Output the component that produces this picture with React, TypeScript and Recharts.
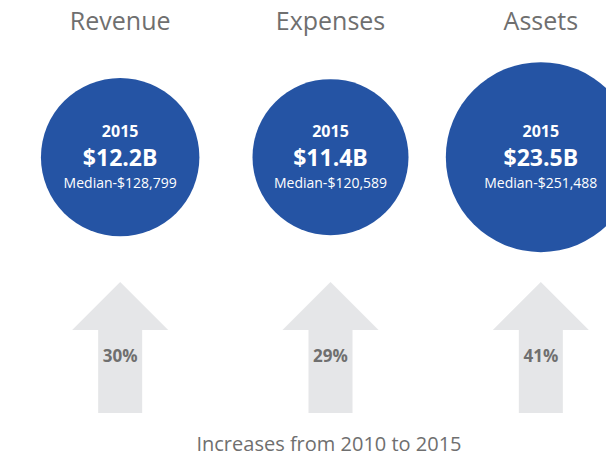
import { ScatterChart, Scatter, XAxis, YAxis, ZAxis } from "recharts";

const CATEGORIES = ["Revenue", "Expenses", "Assets"];
const YEAR = "2015";
const TOTALS_2015 = [12.2, 11.4, 23.5]; // billions of dollars
const MEDIANS_2015 = [128799, 120589, 251488];
const GROWTH_2010_2015 = [30, 29, 41]; // percent
const CAPTION = "Increases from 2010 to 2015";

const ROW_TOTAL = "2015";
const ROW_GROWTH = "2010-2015";

const bubbleRows = CATEGORIES.map((name, i) => ({
  name,
  row: ROW_TOTAL,
  total: TOTALS_2015[i],
  median: MEDIANS_2015[i],
}));

const arrowRows = CATEGORIES.map((name, i) => ({
  name,
  row: ROW_GROWTH,
  growth: GROWTH_2010_2015[i],
}));

const FONT = "'Open Sans', sans-serif";
const BLUE = "#2554a4";
const GREY_TEXT = "#6f6f6f";
const ARROW_FILL = "#e5e6e8";

function Bubble(props: any) {
  const { cx, cy, size, payload } = props;
  const r = Math.sqrt(size / Math.PI);
  return (
    <g fontFamily={FONT} textAnchor="middle" fill="#fff">
      <circle cx={cx} cy={cy} r={r} fill={BLUE} />
      <text x={cx} y={cy - 20} fontSize={16} fontWeight={700}>
        {YEAR}
      </text>
      <text x={cx} y={cy + 9} fontSize={23} fontWeight={700}>
        {`$${payload.total.toFixed(1)}B`}
      </text>
      <text x={cx} y={cy + 31} fontSize={14}>
        {`Median-$${payload.median.toLocaleString("en-US")}`}
      </text>
    </g>
  );
}

function Arrow(props: any) {
  const { cx, cy, payload } = props;
  const head = 48;
  const shaft = 22;
  const pts = [
    [cx, cy - 65.5],
    [cx + head, cy - 17.5],
    [cx + shaft, cy - 17.5],
    [cx + shaft, cy + 65.5],
    [cx - shaft, cy + 65.5],
    [cx - shaft, cy - 17.5],
    [cx - head, cy - 17.5],
  ]
    .map((p) => p.join(","))
    .join(" ");
  return (
    <g>
      <polygon points={pts} fill={ARROW_FILL} />
      <text
        x={cx}
        y={cy + 15}
        textAnchor="middle"
        fontFamily={FONT}
        fontSize={17}
        fontWeight={700}
        fill={GREY_TEXT}
      >
        {`${payload.growth}%`}
      </text>
    </g>
  );
}

export default function App() {
  return (
    <div
      style={{
        position: "absolute",
        left: 0,
        top: 0,
        width: 606,
        height: 460,
        overflow: "hidden",
        background: "#fff",
        fontFamily: FONT,
      }}
    >
      <ScatterChart
        width={660}
        height={460}
        margin={{ top: 22, right: 14, bottom: 17.5, left: 15 }}
      >
        <XAxis
          dataKey="name"
          type="category"
          orientation="top"
          allowDuplicatedCategory={false}
          height={40}
          axisLine={false}
          tickLine={false}
          tickSize={0}
          tickMargin={32}
          tick={{ fill: GREY_TEXT, fontSize: 25, fontFamily: FONT }}
        />
        <YAxis
          dataKey="row"
          type="category"
          allowDuplicatedCategory={false}
          hide
        />
        <ZAxis
          zAxisId="bubble"
          dataKey="total"
          domain={["dataMin", "dataMax"]}
          range={[Math.PI * 78 * 78, Math.PI * 95 * 95]}
        />
        <ZAxis zAxisId="arrow" range={[1, 1]} />
        <Scatter
          data={arrowRows}
          zAxisId="arrow"
          shape={(p: any) => <Arrow {...p} />}
          isAnimationActive={false}
        />
        <Scatter
          data={bubbleRows}
          zAxisId="bubble"
          shape={(p: any) => <Bubble {...p} />}
          isAnimationActive={false}
        />
      </ScatterChart>
      <div
        style={{
          position: "absolute",
          left: 129,
          width: 400,
          top: 430,
          textAlign: "center",
          fontSize: 20,
          color: GREY_TEXT,
        }}
      >
        {CAPTION}
      </div>
    </div>
  );
}
